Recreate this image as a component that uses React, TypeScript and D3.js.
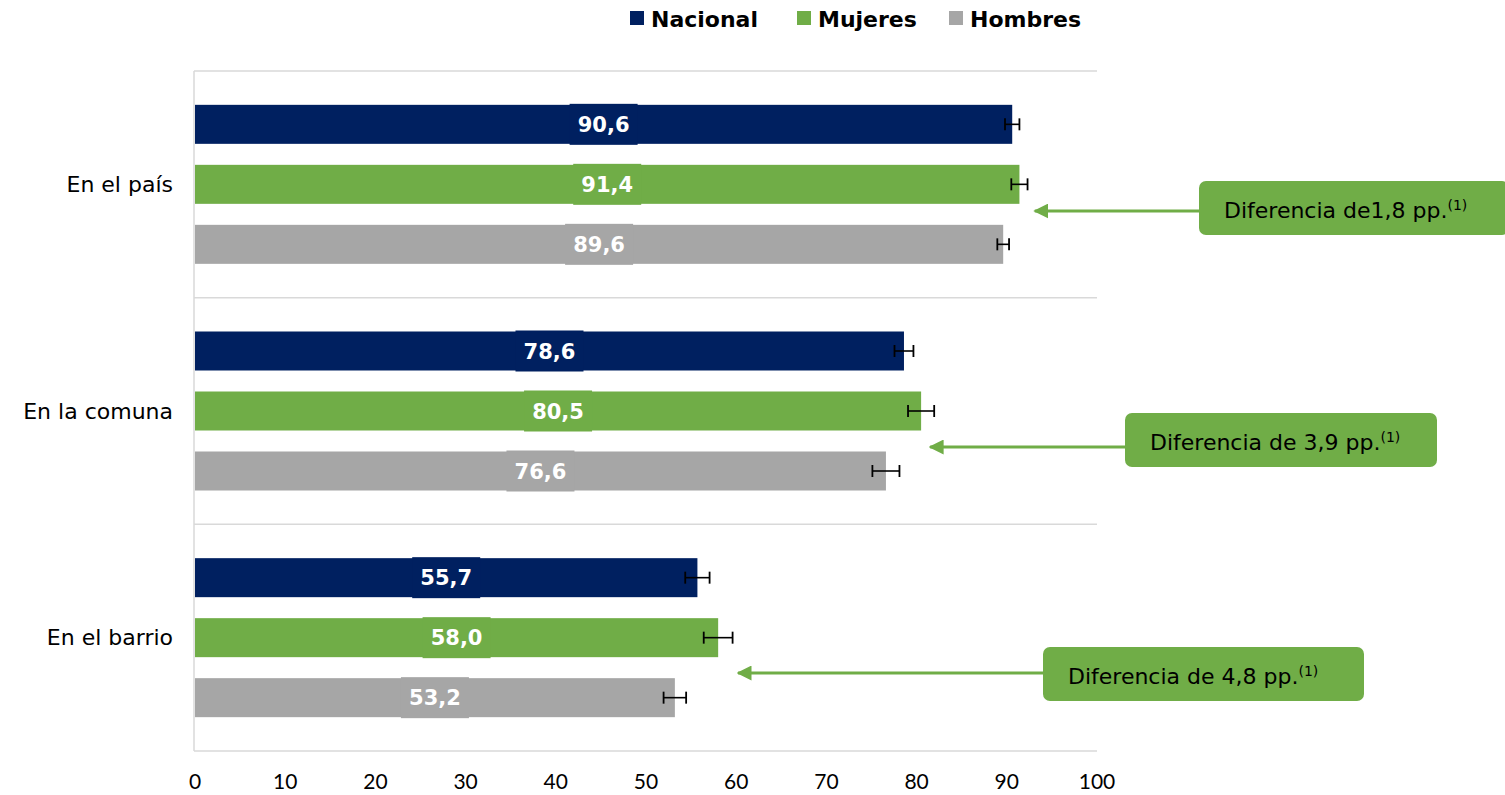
import * as d3 from "d3";
import { useEffect, useRef } from "react";

// datos del gráfico
const categories = ["En el país", "En la comuna", "En el barrio"];
const seriesNames = ["Nacional", "Mujeres", "Hombres"];
const seriesColors = ["#002060", "#70ad47", "#a6a6a6"];
const nacional = [90.6, 78.6, 55.7];
const mujeres = [91.4, 80.5, 58.0];
const hombres = [89.6, 76.6, 53.2];
const errNacional = [0.8, 1.05, 1.35];
const errMujeres = [0.9, 1.45, 1.6];
const errHombres = [0.65, 1.5, 1.25];
const xTicks = [0, 10, 20, 30, 40, 50, 60, 70, 80, 90, 100];
const notes = ["Diferencia de1,8 pp.", "Diferencia de 3,9 pp.", "Diferencia de 4,8 pp."];
// valor donde apunta la flecha
const noteArrowTo = [93.1, 81.5, 60.2];

const FONT = "'DejaVu Sans', 'Noto Sans', sans-serif";
const TICK_FONT = "'Lato', 'Open Sans', sans-serif";

const App = () => {
  const svgRef = useRef<SVGSVGElement>(null);

  const W = 1505;
  const H = 795;
  const margin = { top: 71, right: 408, bottom: 44, left: 195 };

  //posiciones de las cajas de anotación
  const noteBox = [
    { x: 1199, y: 181, w: 310, arrowY: 211 },
    { x: 1125, y: 413, w: 312, arrowY: 447 },
    { x: 1043, y: 647, w: 321, arrowY: 673 },
  ];

  useEffect(() => {
    const svg = d3.select(svgRef.current);
    svg.selectAll("*").remove();

    const innerW = W - margin.left - margin.right;
    const innerH = H - margin.top - margin.bottom;

    const x = d3.scaleLinear().domain([0, 100]).range([margin.left, margin.left + innerW]);
    const y = d3.scaleBand<string>().domain(categories).range([margin.top, margin.top + innerH]);
    const ySeries = d3.scaleBand<string>().domain(seriesNames).range([-90, 90]);
    const barH = 39;

    const values = [nacional, mujeres, hombres];
    const errs = [errNacional, errMujeres, errHombres];

    //líneas de la cuadrícula (separadores de categorías)
    const lines = [margin.top, ...categories.map((c) => (y(c) as number) + y.bandwidth())];
    svg.selectAll(".sep")
      .data(lines)
      .enter()
      .append("line")
      .attr("x1", margin.left - 1)
      .attr("x2", x(100))
      .attr("y1", (d) => d)
      .attr("y2", (d) => d)
      .attr("stroke", "#d9d9d9")
      .attr("stroke-width", 1.5);

    //eje vertical
    svg.append("line")
      .attr("x1", margin.left - 1)
      .attr("x2", margin.left - 1)
      .attr("y1", margin.top)
      .attr("y2", margin.top + innerH)
      .attr("stroke", "#d9d9d9")
      .attr("stroke-width", 1.5);

    //barras, etiquetas y barras de error
    seriesNames.forEach((s, si) => {
      const g = svg.append("g");
      categories.forEach((c, ci) => {
        const v = values[si][ci];
        const cy = (y(c) as number) + y.bandwidth() / 2 + (ySeries(s) as number) + ySeries.bandwidth() / 2;
        g.append("rect")
          .attr("x", x(0))
          .attr("y", cy - barH / 2)
          .attr("width", x(v) - x(0))
          .attr("height", barH)
          .attr("fill", seriesColors[si]);

        const cx = (x(0) + x(v)) / 2;
        g.append("rect")
          .attr("x", cx - 34)
          .attr("y", cy - barH / 2 - 1)
          .attr("width", 68)
          .attr("height", barH + 2)
          .attr("fill", seriesColors[si]);
        g.append("text")
          .attr("x", cx)
          .attr("y", cy)
          .attr("dy", "0.36em")
          .attr("text-anchor", "middle")
          .style("font-family", FONT)
          .style("font-weight", "bold")
          .style("font-size", "21px")
          .style("fill", "#ffffff")
          .text(d3.format(".1f")(v).replace(".", ","));

        const e = errs[si][ci];
        const x1 = x(v - e);
        const x2 = x(v + e);
        g.append("line")
          .attr("x1", x1).attr("x2", x2).attr("y1", cy).attr("y2", cy)
          .attr("stroke", "#000").attr("stroke-width", 1.6);
        [x1, x2].forEach((xx) =>
          g.append("line")
            .attr("x1", xx).attr("x2", xx).attr("y1", cy - 6).attr("y2", cy + 6)
            .attr("stroke", "#000").attr("stroke-width", 1.8)
        );
      });
    });

    //etiquetas de categorías
    svg.selectAll(".cat")
      .data(categories)
      .enter()
      .append("text")
      .attr("x", 173)
      .attr("y", (d) => (y(d) as number) + y.bandwidth() / 2)
      .attr("dy", "0.35em")
      .attr("text-anchor", "end")
      .style("font-family", FONT)
      .style("font-size", "22px")
      .style("fill", "#000")
      .text((d) => d);

    //etiquetas del eje x
    svg.selectAll(".tick")
      .data(xTicks)
      .enter()
      .append("text")
      .attr("x", (d) => x(d))
      .attr("y", 789)
      .attr("text-anchor", "middle")
      .style("font-family", TICK_FONT)
      .style("font-size", "21px")
      .style("fill", "#000")
      .text((d) => d);

    //leyenda
    const legendX = [630, 797, 949];
    seriesNames.forEach((s, i) => {
      svg.append("rect")
        .attr("x", legendX[i])
        .attr("y", 11)
        .attr("width", 14)
        .attr("height", 14)
        .attr("fill", seriesColors[i]);
      svg.append("text")
        .attr("x", legendX[i] + 21)
        .attr("y", 27)
        .style("font-family", FONT)
        .style("font-weight", "bold")
        .style("font-size", "22px")
        .style("fill", "#000")
        .text(s);
    });

    //flechas y cajas de diferencia
    const defs = svg.append("defs");
    defs.append("marker")
      .attr("id", "arrowHead")
      .attr("viewBox", "0 0 10 10")
      .attr("refX", 9)
      .attr("refY", 5)
      .attr("markerWidth", 5)
      .attr("markerHeight", 5)
      .attr("orient", "auto")
      .append("path")
      .attr("d", "M10,5 L0,0 L0,10 Z")
      .attr("fill", "#70ad47");

    noteBox.forEach((b, i) => {
      const bw = Math.min(b.w, W - b.x + 4);
      svg.append("line")
        .attr("x1", b.x)
        .attr("x2", x(noteArrowTo[i]))
        .attr("y1", b.arrowY)
        .attr("y2", b.arrowY)
        .attr("stroke", "#70ad47")
        .attr("stroke-width", 3)
        .attr("marker-end", "url(#arrowHead)");
      svg.append("rect")
        .attr("x", b.x)
        .attr("y", b.y)
        .attr("width", bw)
        .attr("height", 54)
        .attr("rx", 7)
        .attr("fill", "#70ad47");
      const t = svg.append("text")
        .attr("x", b.x + 25)
        .attr("y", b.y + 29)
        .attr("dy", "0.35em")
        .attr("text-anchor", "start")
        .style("font-family", FONT)
        .style("font-size", "22px")
        .style("fill", "#000");
      t.append("tspan").text(notes[i]);
      t.append("tspan")
        .attr("dy", "-0.55em")
        .style("font-size", "14px")
        .text("(1)");
    });
  }, []);

  return (
    <div style={{ position: "absolute", left: 0, top: 0 }}>
      <svg ref={svgRef} width={W} height={H} style={{ display: "block", background: "#fff" }} />
    </div>
  );
};

export default App;
